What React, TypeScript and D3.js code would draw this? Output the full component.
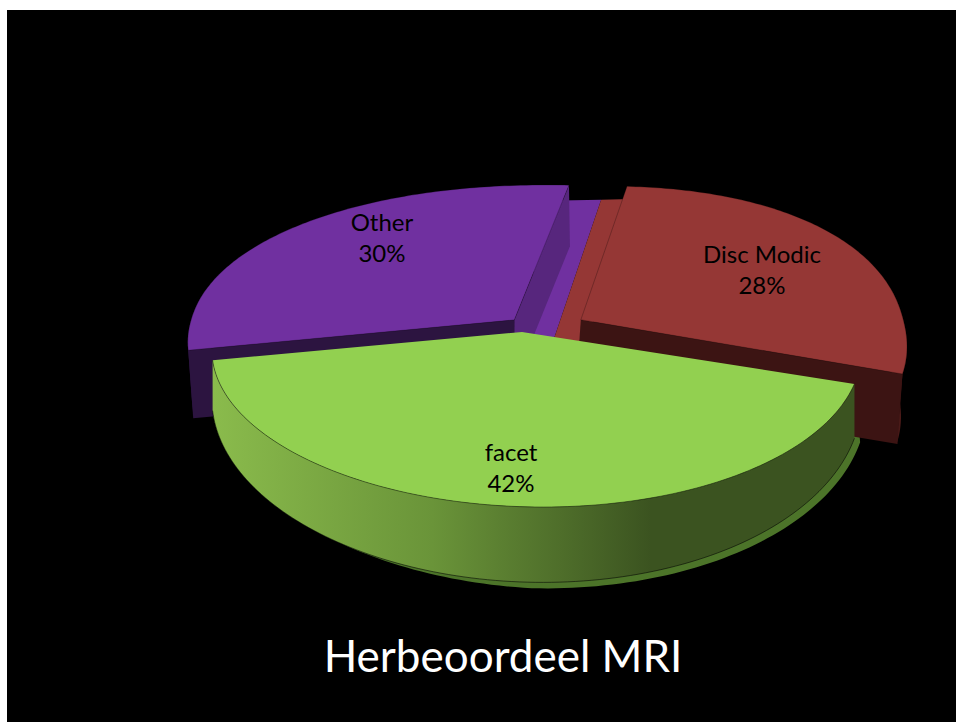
import React from "react";
import * as d3 from "d3";

// ---- data ----
const categories = ["facet", "Other", "Disc Modic"];
const values = [42, 30, 28];
const chartTitle = "Herbeoordeel MRI";

// ---- styles ----
const topColors = ["#92d050", "#7030a0", "#953735"];
const wallColors = ["#3b5320", "#2c1440", "#3c1413"];
const W = 956, H = 722;
const START = (108 * Math.PI) / 180;
const CX = 522, CY = 332, R = 322, RT = 153, F = 8.7, C = 0.4, SA = -3.1, SB = 7.1;

type P = [number, number];
const project = ([X, Y]: P): P => {
  const k = F / (F - Y - C * X);
  return [CX + R * X * k + SA * Y + SB * Y * Y, CY + RT * Y * k];
};
const pw = (v: number, e: number) => Math.sign(v) * Math.pow(Math.abs(v), e);
const polar = (o: P, a: number, r: P, e: number): P => [o[0] + r[0] * pw(Math.sin(a), e), o[1] - r[1] * pw(Math.cos(a), e)];
const line = d3.line<P>().curve(d3.curveLinear);

const slices = d3.pie<number>().sort(null).startAngle(START).endAngle(START + 2 * Math.PI)(values);
const offsets: P[] = [[0, 0], [-0.025, -0.08], [0.182, -0.08]];
const radii: P[] = [[1.0, 1.01], [1.065, 1.0], [0.95, 0.98]];
const squareness = [1, 0.95, 0.92];

const arcPts = (i: number, a0: number, a1: number): P[] =>
  d3.range(0, 121).map((t) => project(polar(offsets[i], a0 + ((a1 - a0) * t) / 120, radii[i], squareness[i])));
const shift = (pts: P[], dx: number | ((p: P) => number), dy: (p: P) => number): P[] =>
  pts.map((p) => [p[0] + (typeof dx === "number" ? dx : dx(p)), p[1] + dy(p)]);

const topFace = (i: number) => {
  const s = slices[i];
  return [project(offsets[i]), ...arcPts(i, s.startAngle, s.endAngle)];
};
const band = (a: P[], b: P[]) => line([...a, ...b.slice().reverse()]) + "Z";

// outer wall (a part of the arc) and radial walls
const arcWall = (i: number, a0: number, a1: number, depth: number, dx: number) => {
  const arc = arcPts(i, a0, a1);
  return band(arc, shift(arc, dx, () => depth));
};
const radialWall = (i: number, a: number, depth: number, dx: number) => {
  const edge: P[] = [project(offsets[i]), project(polar(offsets[i], a, radii[i], squareness[i]))];
  return band(edge, shift(edge, dx, () => depth));
};

// strips of the pie's floor that show in the gap between the exploded slices
const floorStrip = (x0: number, x1: number, far0: number, far1: number) => {
  const yFar = -0.95, yNear = 0.06;
  return line([project([x0, yNear]), project([far0, yFar]), project([far1, yFar]), project([x1, yNear])]) + "Z";
};

// green wall depth grows towards the viewer
const greenDepth = (p: P) => 50 + 25 * ((p[1] - 358) / 147);

export default function App() {
  const g = slices[0];
  const gArc = arcPts(0, g.startAngle, g.endAngle);
  const gLow = shift(gArc, 0, greenDepth);
  const ringArc = arcPts(0, g.startAngle - 0.01, g.endAngle);
  const ringLow = shift(ringArc, (p) => (5 * (p[0] - 213)) / 645, (p) => greenDepth(p) + 6 * Math.min(1, Math.max(0, (p[0] - 330) / 200)));
  const labelPos: P[] = [[511, 453], [382, 223], [762, 255]];
  return (
    <svg width={W} height={H} style={{ position: "fixed", left: 0, top: 0 }}>
      <defs>
        <linearGradient id="gw" gradientUnits="userSpaceOnUse" x1={213} x2={700} y1={0} y2={0}>
          <stop offset="0" stopColor="#8abb4c" />
          <stop offset="0.45" stopColor="#6a9439" />
          <stop offset="0.9" stopColor="#3b5320" />
          <stop offset="1" stopColor="#3b5320" />
        </linearGradient>
      </defs>
      <rect width={W} height={H} fill="#fff" />
      <rect x={7} y={10} width={W - 7} height={H - 10} fill="#000" />

      {/* green lower ring */}
      <path d={band(ringArc, ringLow)} fill="#4c7429" />

      {/* floor strips */}
      <path d={floorStrip(0.0, 0.096, 0.05, 0.238)} fill={topColors[1]} />
      <path d={floorStrip(0.096, 0.2, 0.238, 0.338)} fill={topColors[2]} />

      {/* walls */}
      <path d={arcWall(1, slices[1].startAngle, slices[1].startAngle + 0.4, 68, 5)} fill={wallColors[1]} />
      <path d={radialWall(1, slices[1].startAngle, 68, 5)} fill={wallColors[1]} />
      <path d={radialWall(1, slices[1].endAngle, 61, 1)} fill="#57267d" />
      <path d={arcWall(2, slices[2].endAngle - 0.5, slices[2].endAngle, 70, -6)} fill="#4a1a18" />
      <path d={radialWall(2, slices[2].endAngle, 70, -5)} fill={wallColors[2]} />

      {/* tops of exploded slices */}
      <path d={line(topFace(1)) + "Z"} fill={topColors[1]} stroke="#000" strokeOpacity={0.35} strokeWidth={0.7} />
      <path d={line(topFace(2)) + "Z"} fill={topColors[2]} stroke="#000" strokeOpacity={0.35} strokeWidth={0.7} />

      {/* green slice */}
      <path d={band(gLow, gArc)} fill="url(#gw)" />
      <path d={line(gLow)!} fill="none" stroke="#000" strokeOpacity={0.55} strokeWidth={1} />
      <path d={line(topFace(0)) + "Z"} fill={topColors[0]} />
      <path d={line(gArc)!} fill="none" stroke="#000" strokeOpacity={0.55} strokeWidth={0.8} />

      <g fontFamily="Lato, Carlito, sans-serif" fontSize={24} fill="#000" textAnchor="middle">
        {categories.map((c, i) => (
          <g key={c}>
            <text x={labelPos[i][0]} y={labelPos[i][1] + 8}>{c}</text>
            <text x={labelPos[i][0]} y={labelPos[i][1] + 39}>{`${values[i]}%`}</text>
          </g>
        ))}
      </g>
      <text x={503} y={672} fontFamily="Lato, Carlito, sans-serif" fontSize={44} fill="#fff" textAnchor="middle">
        {chartTitle}
      </text>
    </svg>
  );
}
